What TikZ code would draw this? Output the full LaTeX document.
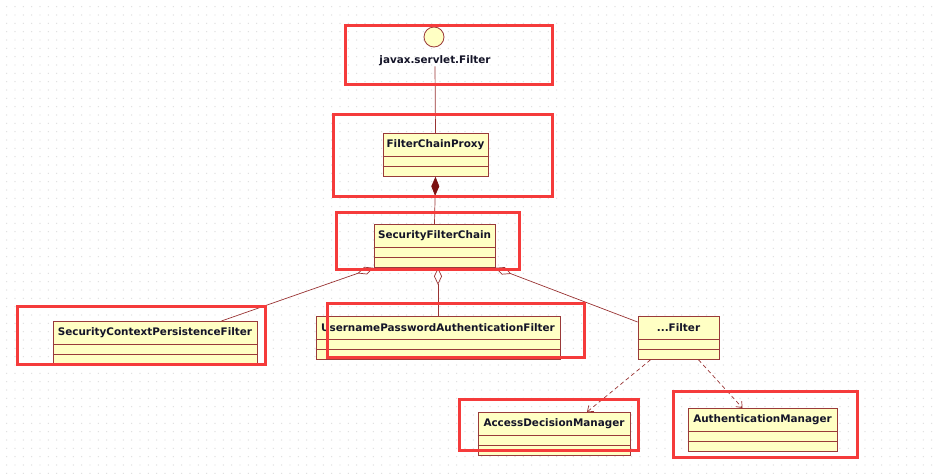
\documentclass[tikz,border=0pt]{standalone}
\usepackage{fontspec}
\setmainfont{DejaVu Sans}
\usepackage{tikz}
\usetikzlibrary{arrows.meta,calc}
\definecolor{clsfill}{HTML}{FFFFC4}
\definecolor{clsdraw}{HTML}{9A3A3A}
\definecolor{linkred}{HTML}{993333}
\definecolor{diamred}{HTML}{7A1010}
\definecolor{markred}{HTML}{F53B3B}
\definecolor{griddot}{HTML}{DEDEDE}
\definecolor{ink}{HTML}{141428}
% one UML class box: name, x, top, width, label
\newcommand{\umlclass}[5]{%
  \node[cls,minimum width=#4pt,anchor=north] (#1) at (#2,#3) {};
  \node[clsname] (#1-name) at ([yshift=-11.5pt]#1.north) {#5};
  \draw[clsdraw,line width=0.8pt] ([yshift=-23pt]#1.north west) -- ([yshift=-23pt]#1.north east);
  \draw[clsdraw,line width=0.8pt] ([yshift=-33pt]#1.north west) -- ([yshift=-33pt]#1.north east);
}

\begin{document}
\begin{tikzpicture}[x=1pt,y=-1pt,
  cls/.style={draw=clsdraw,fill=clsfill,line width=0.8pt,minimum height=43pt,inner sep=0pt},
  clsname/.style={font=\fontsize{10.4}{12}\selectfont\bfseries,text=ink,inner sep=0pt},
  hlframe/.style={draw=markred,line width=3pt},
  link/.style={draw=linkred,line width=0.7pt},
  dep/.style={link,dash pattern=on 4pt off 3pt,-{Straight Barb[length=5pt,width=8pt]}},
  >={Stealth[length=5pt]}]
  \useasboundingbox[fill=white] (0,0) rectangle (938,474);
  \foreach \i in {0,...,112}
    \foreach \j in {0,...,56}
      \fill[griddot] (6.67+\i*8.333,6.67+\j*8.333) circle (0.7);

  % interface and classes
  \node[circle,draw=clsdraw,fill=clsfill,line width=0.8pt,minimum size=20pt,inner sep=0pt] (filter) at (434,37) {};
  \node[clsname] (filterlbl) at (435,61) {javax.servlet.Filter};
  \umlclass{fcp}{435.5}{133}{105}{FilterChainProxy}
  \umlclass{sfc}{434.5}{224}{121}{SecurityFilterChain}
  \umlclass{scpf}{155}{321}{204}{SecurityContextPersistenceFilter}
  \umlclass{upaf}{438}{316}{244}{UsernamePasswordAuthenticationFilter}
  \umlclass{etc}{678.5}{316}{81}{...Filter}
  \umlclass{adm}{554}{412}{152}{AccessDecisionManager}
  \umlclass{am}{762.5}{408}{149}{AuthenticationManager}

  % connectors
  \draw[link] (filterlbl.south) -- (fcp.north);
  \draw[link,{Diamond[length=19pt,width=8pt,fill=diamred,color=diamred]}-] (fcp.south) -- (sfc.north);
  \draw[link,{Diamond[open,length=17pt,width=8pt,fill=white]}-] (sfc.south west) -- ([xshift=-36pt]scpf.north east);
  \draw[link,-{Diamond[open,length=17pt,width=8pt,fill=white]}] (upaf.north) -- (upaf.north |- sfc.south);
  \draw[link,{Diamond[open,length=17pt,width=8pt,fill=white]}-] (sfc.south east) -- ([yshift=-6pt]etc.north west);
  \draw[dep] ([xshift=-28pt]etc.south) -- ([xshift=33pt]adm.north);
  \draw[dep] ([xshift=20pt]etc.south) -- ([xshift=-20pt]am.north);

  % red highlight frames
  \draw[hlframe] (345,25) rectangle (552,84);
  \draw[hlframe] (333,114) rectangle (552,196);
  \draw[hlframe] (336,212) rectangle (519,269);
  \draw[hlframe] (17,306) rectangle (265,364);
  \draw[hlframe] (327,303) rectangle (584,357);
  \draw[hlframe] (459,399) rectangle (638,450);
  \draw[hlframe] (673,391) rectangle (857,457);
\end{tikzpicture}
\end{document}
